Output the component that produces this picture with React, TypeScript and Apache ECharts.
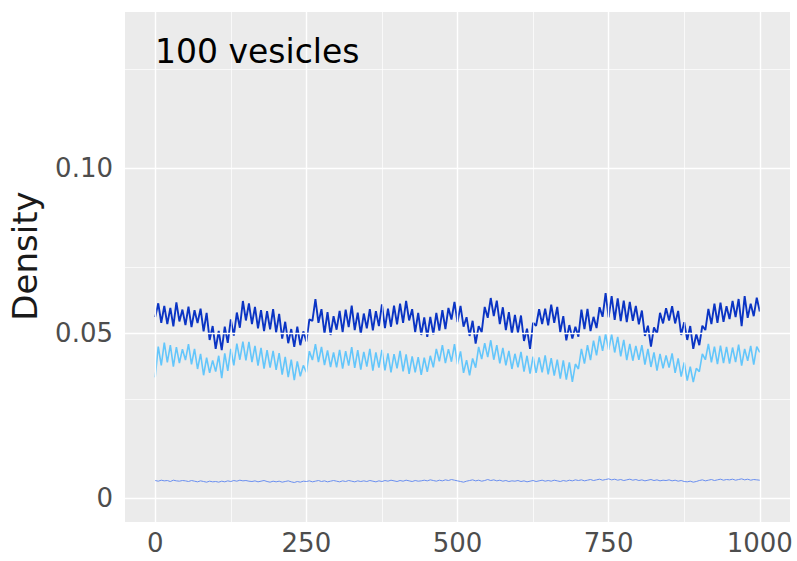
import React, { useEffect, useRef } from "react";
import * as echarts from "echarts";

// x positions: 0, 5, 10, ..., 1000
const xStep = 5;
const darkSeries = [
  0.0548,0.0590,0.0531,0.0582,0.0527,0.0576,0.0520,0.0593,0.0535,0.0571,
  0.0524,0.0580,0.0518,0.0569,0.0530,0.0574,0.0505,0.0561,0.0479,0.0521,
  0.0452,0.0506,0.0448,0.0519,0.0470,0.0541,0.0492,0.0562,0.0516,0.0597,
  0.0538,0.0590,0.0527,0.0579,0.0514,0.0569,0.0506,0.0566,0.0511,0.0572,
  0.0502,0.0558,0.0483,0.0534,0.0469,0.0512,0.0458,0.0519,0.0463,0.0505,
  0.0474,0.0541,0.0537,0.0603,0.0531,0.0572,0.0498,0.0563,0.0494,0.0551,
  0.0510,0.0567,0.0503,0.0571,0.0518,0.0583,0.0509,0.0562,0.0497,0.0559,
  0.0514,0.0572,0.0508,0.0566,0.0521,0.0587,0.0515,0.0574,0.0519,0.0583,
  0.0526,0.0589,0.0531,0.0597,0.0538,0.0572,0.0503,0.0561,0.0494,0.0547,
  0.0488,0.0549,0.0496,0.0561,0.0507,0.0569,0.0512,0.0576,0.0541,0.0594,
  0.0533,0.0582,0.0519,0.0548,0.0491,0.0537,0.0468,0.0521,0.0503,0.0579,
  0.0546,0.0606,0.0551,0.0598,0.0527,0.0578,0.0509,0.0563,0.0498,0.0555,
  0.0501,0.0553,0.0476,0.0513,0.0452,0.0531,0.0522,0.0572,0.0527,0.0574,
  0.0523,0.0586,0.0531,0.0579,0.0503,0.0551,0.0478,0.0524,0.0483,0.0519,
  0.0489,0.0571,0.0512,0.0573,0.0506,0.0549,0.0515,0.0578,0.0549,0.0621,
  0.0547,0.0612,0.0540,0.0605,0.0536,0.0598,0.0533,0.0594,0.0537,0.0582,
  0.0526,0.0568,0.0491,0.0522,0.0459,0.0517,0.0498,0.0561,0.0529,0.0575,
  0.0538,0.0581,0.0529,0.0567,0.0494,0.0533,0.0479,0.0521,0.0452,0.0497,
  0.0463,0.0522,0.0509,0.0573,0.0527,0.0589,0.0531,0.0592,0.0534,0.0581,
  0.0542,0.0597,0.0548,0.0603,0.0521,0.0612,0.0546,0.0589,0.0551,0.0607,
  0.0565,
];
const lightSeries = [
  0.0366,0.0459,0.0402,0.0471,0.0411,0.0463,0.0398,0.0457,0.0409,0.0451,
  0.0418,0.0466,0.0405,0.0452,0.0391,0.0437,0.0372,0.0425,0.0379,0.0417,
  0.0383,0.0431,0.0363,0.0438,0.0385,0.0452,0.0402,0.0468,0.0419,0.0474,
  0.0417,0.0473,0.0412,0.0461,0.0401,0.0455,0.0392,0.0448,0.0395,0.0446,
  0.0388,0.0439,0.0374,0.0428,0.0366,0.0419,0.0357,0.0414,0.0369,0.0402,
  0.0381,0.0445,0.0418,0.0466,0.0412,0.0458,0.0403,0.0447,0.0397,0.0441,
  0.0396,0.0449,0.0392,0.0445,0.0401,0.0457,0.0394,0.0448,0.0389,0.0443,
  0.0398,0.0452,0.0386,0.0441,0.0395,0.0449,0.0387,0.0438,0.0381,0.0436,
  0.0393,0.0446,0.0384,0.0435,0.0376,0.0429,0.0381,0.0427,0.0373,0.0425,
  0.0382,0.0431,0.0396,0.0452,0.0414,0.0463,0.0409,0.0451,0.0413,0.0466,
  0.0405,0.0444,0.0379,0.0418,0.0372,0.0423,0.0395,0.0458,0.0421,0.0469,
  0.0427,0.0478,0.0419,0.0463,0.0408,0.0455,0.0402,0.0446,0.0391,0.0437,
  0.0396,0.0443,0.0383,0.0431,0.0377,0.0428,0.0379,0.0426,0.0381,0.0432,
  0.0375,0.0424,0.0371,0.0419,0.0362,0.0417,0.0359,0.0411,0.0352,0.0406,
  0.0391,0.0452,0.0407,0.0463,0.0418,0.0477,0.0432,0.0491,0.0446,0.0497,
  0.0449,0.0496,0.0441,0.0488,0.0429,0.0479,0.0418,0.0467,0.0416,0.0461,
  0.0419,0.0463,0.0404,0.0452,0.0397,0.0441,0.0386,0.0437,0.0393,0.0432,
  0.0395,0.0438,0.0379,0.0423,0.0368,0.0411,0.0356,0.0398,0.0351,0.0393,
  0.0383,0.0437,0.0419,0.0467,0.0411,0.0459,0.0406,0.0462,0.0409,0.0458,
  0.0407,0.0456,0.0412,0.0465,0.0401,0.0452,0.0416,0.0461,0.0404,0.0459,
  0.0441,
];
const lowSeries = [
  0.0053,0.0051,0.0054,0.0052,0.0053,0.0050,0.0054,0.0052,0.0051,0.0053,
  0.0052,0.0050,0.0053,0.0051,0.0049,0.0052,0.0050,0.0048,0.0051,0.0049,
  0.0050,0.0048,0.0051,0.0049,0.0052,0.0050,0.0053,0.0051,0.0054,0.0052,
  0.0053,0.0051,0.0050,0.0052,0.0049,0.0051,0.0053,0.0050,0.0048,0.0051,
  0.0049,0.0051,0.0048,0.0050,0.0052,0.0049,0.0047,0.0050,0.0048,0.0051,
  0.0050,0.0052,0.0049,0.0051,0.0053,0.0050,0.0052,0.0049,0.0051,0.0053,
  0.0051,0.0049,0.0052,0.0050,0.0053,0.0051,0.0049,0.0052,0.0050,0.0052,
  0.0050,0.0053,0.0051,0.0049,0.0052,0.0050,0.0053,0.0051,0.0054,0.0052,
  0.0050,0.0053,0.0051,0.0054,0.0052,0.0050,0.0053,0.0051,0.0052,0.0054,
  0.0052,0.0055,0.0053,0.0051,0.0054,0.0052,0.0055,0.0053,0.0056,0.0054,
  0.0052,0.0050,0.0048,0.0051,0.0053,0.0055,0.0052,0.0054,0.0051,0.0053,
  0.0056,0.0053,0.0055,0.0052,0.0054,0.0051,0.0053,0.0050,0.0052,0.0051,
  0.0053,0.0050,0.0052,0.0049,0.0051,0.0053,0.0050,0.0052,0.0054,0.0051,
  0.0053,0.0051,0.0054,0.0052,0.0050,0.0053,0.0051,0.0054,0.0052,0.0055,
  0.0053,0.0055,0.0052,0.0054,0.0056,0.0053,0.0055,0.0057,0.0054,0.0056,
  0.0058,0.0055,0.0057,0.0054,0.0056,0.0053,0.0055,0.0057,0.0054,0.0056,
  0.0053,0.0055,0.0052,0.0054,0.0056,0.0053,0.0055,0.0052,0.0054,0.0053,
  0.0055,0.0052,0.0054,0.0051,0.0053,0.0050,0.0049,0.0051,0.0048,0.0050,
  0.0053,0.0055,0.0052,0.0054,0.0056,0.0053,0.0055,0.0057,0.0054,0.0056,
  0.0055,0.0057,0.0054,0.0056,0.0058,0.0055,0.0057,0.0054,0.0056,0.0055,
  0.0054,
];

const xTicks = [0, 250, 500, 750, 1000];
const xMinorGrid = [125, 375, 625, 875];
const yTicks = [0, 0.05, 0.1];
const yMinorGrid = [0.025, 0.075, 0.125];
const titleText = "100 vesicles";
const yTitle = "Density";

const FONT = "DejaVu Sans";

function toPairs(vals: number[]) {
  return vals.map((v, i) => [i * xStep, v]);
}

export default function App() {
  const ref = useRef<HTMLDivElement>(null);
  useEffect(() => {
    document.body.style.margin = "0";
    if (!ref.current) return;
    const chart = echarts.init(ref.current, null, { renderer: "svg" });
    const lineSeries = (name: string, vals: number[], color: string, width: number, z: number) => ({
      name,
      type: "line",
      data: toPairs(vals),
      showSymbol: false,
      symbol: "none",
      lineStyle: { color, width },
      z,
      silent: true,
    });
    chart.setOption({
      animation: false,
      backgroundColor: "#ffffff",
      grid: {
        left: 125,
        right: 7,
        top: 12,
        bottom: 39,
        show: true,
        backgroundColor: "#ebebeb",
        borderWidth: 0,
      },
      xAxis: {
        type: "value",
        min: -50,
        max: 1050,
        splitLine: { show: false },
        axisLine: { show: false },
        axisTick: {
          show: true,
          customValues: xTicks,
          length: 4,
          lineStyle: { color: "#333333", width: 1 },
        },
        axisLabel: {
          customValues: xTicks,
          fontFamily: FONT,
          fontSize: 26,
          color: "#4d4d4d",
          margin: 8,
          formatter: (v: number) => String(v),
        },
      },
      yAxis: {
        type: "value",
        min: -0.00727,
        max: 0.14727,
        splitLine: { show: false },
        axisLine: { show: false },
        axisTick: {
          show: true,
          customValues: yTicks,
          length: 4,
          lineStyle: { color: "#333333", width: 1 },
        },
        axisLabel: {
          customValues: yTicks,
          fontFamily: FONT,
          fontSize: 26,
          color: "#4d4d4d",
          margin: 12,
          formatter: (v: number) => (v === 0 ? "0" : v.toFixed(2)),
        },
      },
      graphic: [
        {
          type: "text",
          x: 155,
          y: 51,
          style: {
            text: titleText,
            font: `33px "${FONT}"`,
            fill: "#000000",
            textAlign: "left",
            textVerticalAlign: "middle",
          },
          z: 10,
        },
        {
          type: "text",
          x: 25,
          y: 256,
          rotation: Math.PI / 2,
          style: {
            text: yTitle,
            font: `34px "${FONT}"`,
            fill: "#1a1a1a",
            textAlign: "center",
            textVerticalAlign: "middle",
          },
        },
      ],
      series: [
        {
          type: "line",
          data: [],
          z: 1,
          silent: true,
          markLine: {
            silent: true,
            symbol: "none",
            label: { show: false },
            animation: false,
            data: [
              ...xMinorGrid.map((v) => ({ xAxis: v, lineStyle: { color: "#ffffff", width: 0.7, type: "solid" } })),
              ...yMinorGrid.map((v) => ({ yAxis: v, lineStyle: { color: "#ffffff", width: 0.7, type: "solid" } })),
              ...xTicks.map((v) => ({ xAxis: v, lineStyle: { color: "#ffffff", width: 1.4, type: "solid" } })),
              ...yTicks.map((v) => ({ yAxis: v, lineStyle: { color: "#ffffff", width: 1.4, type: "solid" } })),
            ],
          },
        },
        lineSeries("dark", darkSeries, "#0a34c4", 1.9, 3),
        lineSeries("light", lightSeries, "#63c6fb", 1.6, 4),
        lineSeries("low", lowSeries, "#6a8ff0", 1.0, 5),
      ],
    });
    return () => chart.dispose();
  }, []);
  return <div ref={ref} style={{ width: 797, height: 561 }} />;
}
